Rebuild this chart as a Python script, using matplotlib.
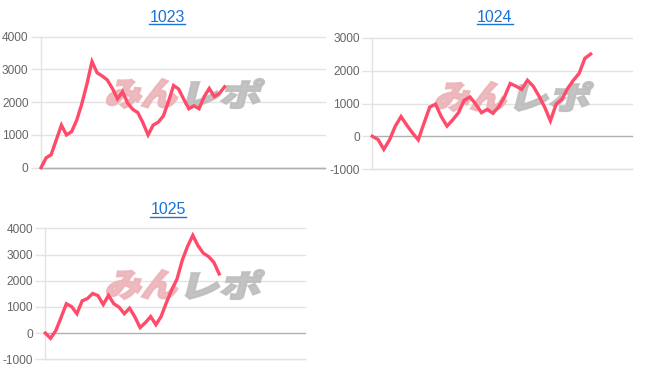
import numpy as np
import matplotlib
matplotlib.use("Agg")
import matplotlib.pyplot as plt
from matplotlib.lines import Line2D
from matplotlib.textpath import TextPath
from matplotlib.patches import PathPatch
from matplotlib.font_manager import FontProperties
import matplotlib.transforms as mtransforms

# ---- data ----
titles = ["1023", "1024", "1025"]
values_1023 = [0, 300, 400, 850, 1300, 1000, 1100, 1450, 1950, 2550, 3240,
               2900, 2800, 2680, 2420, 2100, 2320, 1970, 1780, 1680, 1370,
               1000, 1300, 1390, 1580, 2020, 2510, 2400, 2090, 1800, 1890,
               1800, 2170, 2420, 2170, 2270, 2470]
values_1024 = [0, -100, -400, -110, 310, 600, 340, 100, -110, 400, 890,
               980, 600, 310, 500, 720, 1100, 1200, 980, 720, 820,
               700, 900, 1200, 1610, 1530, 1430, 1710, 1530, 1230, 890,
               470, 980, 1130, 1460, 1710, 1920, 2380, 2510]
values_1025 = [0, -200, 100, 600, 1120, 1010, 740, 1230, 1320, 1510, 1430,
               1090, 1440, 1120, 990, 740, 950, 620, 210, 400, 630,
               320, 640, 1170, 1650, 2060, 2780, 3310, 3730, 3330, 3050,
               2920, 2700, 2260]
ylims = [(0, 4000), (-1000, 3000), (-1000, 4000)]

W, H = 652, 382
DPI = 100
fig = plt.figure(figsize=(W / DPI, H / DPI), dpi=DPI)
fig.patch.set_facecolor("white")

LINE_C = "#ff4a6a"
GRID_C = "#e3e3e3"
ZERO_C = "#b0b0b0"
TICK_C = "#666666"
TITLE_C = "#1a73d6"

# pixel boxes: left, top, right, bottom ; x extent (upper xlim in index units)
boxes = [(41, 36.7, 325, 167.7), (372.3, 38, 632, 169), (45.3, 228.3, 305, 359.3)]
xmaxs = [55.7, 45.2, 49.3]
title_pos = [(167, 17.5), (495, 17.5), (168, 210)]
series = [values_1023, values_1024, values_1025]

fp_wm = FontProperties(family="Noto Sans CJK JP", weight="black")


def wm_patch(text, x0, y0, x1, y1, color, skew=14):
    """Place a text path inside the pixel box (top-left origin)."""
    tp = TextPath((0, 0), text, prop=fp_wm, size=1)
    ext = tp.get_extents()
    h = y1 - y0
    shift = np.tan(np.radians(skew)) * h
    sx = (x1 - x0 - shift) / ext.width
    sy = h / ext.height
    tr = (mtransforms.Affine2D()
          .translate(-ext.x0, -ext.y0)
          .scale(sx, sy)
          .skew_deg(skew, 0)
          .translate(x0, H - y1))
    p = PathPatch(tp, facecolor=color, edgecolor=color, lw=1.6, alpha=0.9,
                  transform=tr, zorder=1.5, clip_on=False)
    return p


axes = []
for i, (vals, (l, t, r, b), xm, yl) in enumerate(zip(series, boxes, xmaxs, ylims)):
    ax = fig.add_axes([l / W, 1 - b / H, (r - l) / W, (b - t) / H])
    axes.append(ax)
    x = np.arange(len(vals))
    ax.plot(x, vals, color=LINE_C, lw=2.4, solid_joinstyle="miter", zorder=3,
            clip_on=False)
    ax.set_xlim(0, xm)
    ax.set_ylim(*yl)
    ticks = np.arange(yl[0], yl[1] + 1, 1000)
    ax.set_yticks(ticks)
    ax.set_yticklabels([str(int(v)) for v in ticks], fontsize=8.6,
                       color=TICK_C, family="Liberation Sans")
    ax.set_xticks([])
    for s in ["top", "right"]:
        ax.spines[s].set_visible(False)
    ax.spines["left"].set_color(GRID_C)
    ax.spines["left"].set_linewidth(1)
    ax.spines["bottom"].set_color(ZERO_C if yl[0] == 0 else GRID_C)
    ax.spines["bottom"].set_linewidth(1)
    ax.tick_params(axis="y", length=7, width=1, color=GRID_C, pad=2)
    for v in ticks:
        c = ZERO_C if v == 0 else GRID_C
        ax.axhline(v, color=c, lw=1, zorder=0.5, clip_on=False)
    for tl, v in zip(ax.yaxis.get_ticklines(), np.repeat(ticks, 2)):
        if v == 0:
            tl.set_color(ZERO_C)
    # watermark
    if i == 0:
        px0, py0 = 105, 79
    elif i == 1:
        px0, py0 = 434, 82
    else:
        px0, py0 = 105, 270
    ax.add_artist(wm_patch("みん", px0, py0, px0 + 77, py0 + 29, "#ecb3b8"))
    ax.add_artist(wm_patch("レポ", px0 + 80, py0, px0 + 160, py0 + 29, "#bdbdbd"))

# titles with underline
texts = []
for (tx, ty), ttl in zip(title_pos, titles):
    tt = fig.text(tx / W, 1 - ty / H, ttl, ha="center", va="center",
                  fontsize=11.5, color=TITLE_C, family="Liberation Sans")
    texts.append(tt)

fig.canvas.draw()
renderer = fig.canvas.get_renderer()
for tt in texts:
    bb = tt.get_window_extent(renderer)
    yline = bb.y0 + 1.0
    fig.add_artist(Line2D([bb.x0 / W, bb.x1 / W], [yline / H, yline / H],
                          transform=fig.transFigure, color=TITLE_C, lw=1))

fig.savefig("out.png", dpi=DPI, facecolor="white")
